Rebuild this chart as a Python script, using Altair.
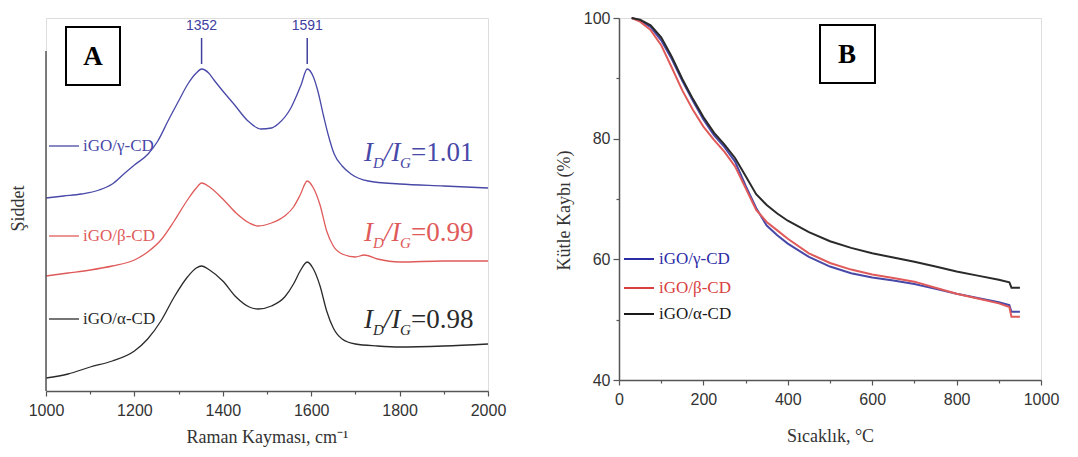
import altair as alt
import pandas as pd

# ---------------- Panel A: Raman spectra (arbitrary intensity units) ----------------
gamma_wn = [1000, 1040, 1080, 1120, 1150, 1176, 1200, 1231, 1253, 1276, 1300, 1321, 1340, 1352, 1368, 1380, 1400, 1425, 1457, 1486, 1510, 1525, 1554, 1577, 1591, 1605, 1615, 1628, 1638, 1652, 1670, 1690, 1729, 1800, 1900, 2000]
gamma_int = [193, 195, 197, 201, 207, 217, 226, 237, 250, 270, 290, 307, 318, 322, 318, 311, 300, 287, 270, 262, 263, 267, 283, 306, 322, 314, 300, 275, 257, 237, 225, 217, 210, 207, 205, 203]

beta_wn = [1000, 1050, 1100, 1150, 1200, 1230, 1260, 1290, 1320, 1340, 1352, 1370, 1400, 1430, 1460, 1480, 1510, 1540, 1560, 1575, 1591, 1605, 1620, 1635, 1650, 1670, 1700, 1720, 1750, 1800, 1900, 2000]
beta_int = [115, 118, 121, 125, 131, 139, 151, 170, 191, 203, 208, 204, 192, 178, 168, 165, 168, 175, 184, 196, 210, 203, 186, 160, 145, 137, 134, 136, 132, 129, 130, 130]

alpha_wn = [1000, 1050, 1100, 1150, 1200, 1230, 1260, 1290, 1320, 1340, 1352, 1370, 1400, 1430, 1460, 1480, 1510, 1540, 1560, 1575, 1591, 1605, 1620, 1635, 1650, 1670, 1700, 1750, 1800, 1900, 2000]
alpha_int = [13, 17, 24, 30, 40, 52, 70, 94, 114, 123, 125, 121, 110, 94, 84, 82, 85, 94, 107, 120, 129, 122, 105, 80, 63, 52, 47, 45, 44, 45, 47]

series_names = ["iGO/γ-CD", "iGO/β-CD", "iGO/α-CD"]
ratio_texts = ["=1.01", "=0.99", "=0.98"]
peak_positions = [1352, 1591]
peak_labels = ["1352", "1591"]

# ---------------- Panel B: TGA ----------------
tga_temp = [30, 50, 75, 100, 125, 150, 175, 200, 225, 250, 275, 300, 325, 350, 375, 400, 450, 500, 550, 600, 650, 700, 750, 800, 850, 900, 925, 930, 950]
tga_gamma = [100, 99.6, 98.5, 96.3, 93.2, 89.6, 86.3, 83.2, 80.6, 78.6, 76.2, 72.2, 68.5, 65.6, 64.0, 62.6, 60.4, 58.8, 57.7, 57.0, 56.5, 55.9, 55.1, 54.3, 53.6, 52.9, 52.4, 51.3, 51.3]
tga_beta = [100, 99.4, 98.0, 95.5, 91.8, 88.0, 84.8, 82.0, 79.8, 77.8, 75.4, 71.8, 68.2, 66.2, 64.8, 63.4, 61.0, 59.4, 58.3, 57.5, 56.9, 56.3, 55.3, 54.3, 53.5, 52.7, 52.1, 50.5, 50.5]
tga_alpha = [100, 99.7, 98.8, 96.8, 93.6, 89.9, 86.6, 83.6, 81.0, 79.0, 76.8, 73.8, 70.8, 69.0, 67.6, 66.4, 64.5, 63.0, 61.9, 61.0, 60.3, 59.6, 58.8, 58.0, 57.3, 56.6, 56.2, 55.3, 55.3]

raman_colors = ["#4848a8", "#e05a5a", "#2a2a2a"]
tga_colors = ["#2c2ca6", "#d84040", "#1a1a1a"]

SERIF = "Liberation Serif"
SANS = "Liberation Sans"

raman_df = pd.concat([
    pd.DataFrame({"wn": gamma_wn, "I": gamma_int, "series": series_names[0]}),
    pd.DataFrame({"wn": beta_wn, "I": beta_int, "series": series_names[1]}),
    pd.DataFrame({"wn": alpha_wn, "I": alpha_int, "series": series_names[2]}),
])
tga_df = pd.concat([
    pd.DataFrame({"T": tga_temp, "M": tga_gamma, "series": series_names[0]}),
    pd.DataFrame({"T": tga_temp, "M": tga_beta, "series": series_names[1]}),
    pd.DataFrame({"T": tga_temp, "M": tga_alpha, "series": series_names[2]}),
])

A_W, A_H = 442, 373
B_W, B_H = 422, 362


def px_text(text, x, y, color="black", size=16, font=SERIF, style="normal", weight="normal",
            align="left", baseline="middle"):
    return alt.Chart(pd.DataFrame({"t": [text]})).mark_text(
        font=font, fontSize=size, fontStyle=style, fontWeight=weight, color=color,
        align=align, baseline=baseline
    ).encode(x=alt.value(x), y=alt.value(y), text="t:N")


def px_rule(x1, y1, x2, y2, color="black", width=1.5):
    return alt.Chart(pd.DataFrame({"a": [0]})).mark_rule(color=color, strokeWidth=width).encode(
        x=alt.value(x1), x2=alt.value(x2), y=alt.value(y1), y2=alt.value(y2))


def px_box(x1, y1, x2, y2):
    return alt.Chart(pd.DataFrame({"a": [0]})).mark_rect(
        fillOpacity=0, stroke="black", strokeWidth=2).encode(
        x=alt.value(x1), x2=alt.value(x2), y=alt.value(y1), y2=alt.value(y2))


# ---------- Panel A ----------
xa = alt.X("wn:Q", scale=alt.Scale(domain=[1000, 2000], nice=False, zero=False),
           axis=alt.Axis(values=list(range(1000, 2001, 100)), format="d", labelFlush=False,
                         labelExpr="datum.value % 200 === 0 ? datum.label : ''",
                         tickSize={"condition": {"test": "datum.value % 200 === 0", "value": 5}, "value": 3},
                         title="Raman Kayması, cm⁻¹", titleFont=SERIF, titleFontSize=18,
                         titleFontWeight="normal", titleColor="#333", titlePadding=10,
                         labelFont=SANS, labelFontSize=16, labelColor="#333", labelPadding=6,
                         domainColor="#555", domainWidth=1.5, tickColor="#555", tickWidth=1.2, grid=False))
ya = alt.Y("I:Q", scale=alt.Scale(domain=[0, 373], nice=False, zero=False),
           axis=alt.Axis(domain=False, ticks=False, labels=False, grid=False, title="Şiddet",
                         titleFont=SERIF, titleFontSize=18, titleFontWeight="normal", titleColor="#333",
                         titlePadding=19, titleY=190))

lines_a = alt.Chart(raman_df).mark_line(strokeWidth=1.3, interpolate="monotone").encode(
    x=xa, y=ya,
    color=alt.Color("series:N", scale=alt.Scale(domain=series_names, range=raman_colors), legend=None),
)

yaxis_line = px_rule(0, 33, 0, A_H, color="#555", width=1.5)

peaks_df = pd.DataFrame({"p": peak_positions, "lab": peak_labels})
peak_text = alt.Chart(peaks_df).mark_text(font=SANS, fontSize=14, color="#4040a0", baseline="middle").encode(
    x="p:Q", y=alt.value(8), text="lab:N")
peak_rules = alt.Chart(peaks_df).mark_rule(color="#4040a0", strokeWidth=1.5).encode(
    x="p:Q", y=alt.value(20), y2=alt.value(46))

box_a = px_box(20, 9, 74, 67)
letter_a = px_text("A", 47, 39, size=27, weight="bold", align="center")

legend_a_y = [128, 218, 301]
legend_a = []
for name, col, ly in zip(series_names, raman_colors, legend_a_y):
    legend_a.append(px_rule(3, ly, 33, ly, color=col, width=1.3))
    legend_a.append(px_text(name, 37, ly, color=col, size=17))

ratio_y = [143, 223, 310]
ratio_layers = []
x0 = 318
for rt, col, by in zip(ratio_texts, raman_colors, ratio_y):
    ratio_layers += [
        px_text("I", x0, by, color=col, size=27, style="italic", baseline="alphabetic"),
        px_text("D", x0 + 9, by + 7, color=col, size=15, style="italic", baseline="alphabetic"),
        px_text("/I", x0 + 20, by, color=col, size=27, style="italic", baseline="alphabetic"),
        px_text("G", x0 + 36, by + 7, color=col, size=15, style="italic", baseline="alphabetic"),
        px_text(rt, x0 + 47, by, color=col, size=27, baseline="alphabetic"),
    ]

panel_a = alt.layer(lines_a, yaxis_line, peak_rules, peak_text, box_a, letter_a,
                    *legend_a, *ratio_layers).properties(width=A_W, height=A_H)

# ---------- Panel B ----------
xb = alt.X("T:Q", scale=alt.Scale(domain=[0, 1000], nice=False, zero=False),
           axis=alt.Axis(values=list(range(0, 1001, 100)), format="d", labelFlush=False,
                         labelExpr="datum.value % 200 === 0 ? datum.label : ''",
                         tickSize={"condition": {"test": "datum.value % 200 === 0", "value": 5}, "value": 3},
                         title="Sıcaklık, °C", titleFont=SERIF, titleFontSize=18, titleFontWeight="normal",
                         titleColor="#333", titlePadding=20,
                         labelFont=SANS, labelFontSize=16, labelColor="#333", labelPadding=6,
                         domainColor="#555", domainWidth=1.5, tickColor="#555", tickWidth=1.2, grid=False))
yb = alt.Y("M:Q", scale=alt.Scale(domain=[40, 100], nice=False, zero=False),
           axis=alt.Axis(values=list(range(40, 101, 10)), format="d", labelFlush=False,
                         labelExpr="datum.value % 20 === 0 ? datum.label : ''",
                         tickSize={"condition": {"test": "datum.value % 20 === 0", "value": 6}, "value": 3},
                         title="Kütle Kaybı (%)", titleFont=SERIF, titleFontSize=18, titleFontWeight="normal",
                         titleColor="#333", titlePadding=10, titleY=192,
                         labelFont=SANS, labelFontSize=16, labelColor="#333", labelPadding=3,
                         domainColor="#555", domainWidth=1.5, tickColor="#555", tickWidth=1.2, grid=False))

lines_b = alt.Chart(tga_df).mark_line(strokeWidth=2).encode(
    x=xb, y=yb,
    color=alt.Color("series:N", scale=alt.Scale(domain=series_names, range=tga_colors), legend=None),
    order=alt.Order("T:Q"),
)

box_b = px_box(201, 7, 256, 65)
letter_b = px_text("B", 228, 37, size=27, weight="bold", align="center")

legend_b_y = [241, 270, 296]
legend_b = []
for name, col, ly in zip(series_names, tga_colors, legend_b_y):
    legend_b.append(px_rule(5, ly, 35, ly, color=col, width=2))
    legend_b.append(px_text(name, 40, ly, color=col, size=17))

panel_b = alt.layer(lines_b, box_b, letter_b, *legend_b).properties(width=B_W, height=B_H)

chart = alt.hconcat(panel_a, panel_b, spacing=47).properties(
    padding={"left": 0, "top": 1, "right": 0, "bottom": 0}
).configure_view(stroke=None).configure(background="white")

chart.save("out.html", embed_options={"renderer": "svg", "actions": False})
